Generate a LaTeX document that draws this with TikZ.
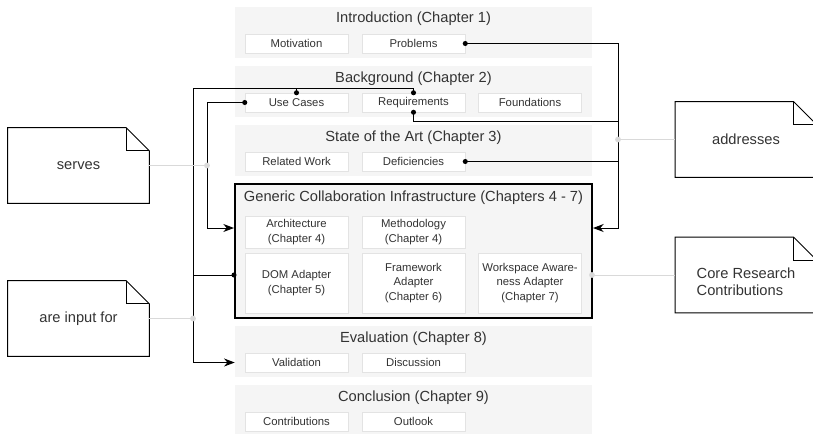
\documentclass[tikz,border=0pt]{standalone}
\usepackage{fontspec}
\setmainfont{Liberation Sans}
\usetikzlibrary{arrows.meta}

\definecolor{secfill}{HTML}{F5F5F5}
\definecolor{subline}{HTML}{E3E3E3}
\definecolor{txt}{HTML}{333333}
\definecolor{hint}{HTML}{D9D9D9}

\tikzset{
  section/.style={fill=secfill, minimum width=267.75pt, minimum height=38.25pt, inner sep=0pt},
  core/.style={section, draw=black, line width=1.5pt, minimum height=100.5pt},
  title/.style={text=txt, font=\fontsize{11}{13}\selectfont, inner sep=0pt},
  sub/.style={fill=white, draw=subline, minimum width=77.25pt, minimum height=14.25pt, inner sep=0pt,
    text=txt, font=\fontsize{8.5}{11}\selectfont, align=center},
  notebox/.style={minimum width=105.75pt, minimum height=56.25pt, inner sep=0pt,
    text=txt, font=\fontsize{11}{13}\selectfont},
  flow/.style={line width=0.75pt},
  into/.style={flow, -{Stealth[length=8pt, width=6pt, inset=2.5pt]}},
  hintline/.style={draw=hint, line width=0.75pt},
}

\begin{document}
\begin{tikzpicture}[x=0.75pt, y=-0.75pt]
  \useasboundingbox (0,0) rectangle (813,433);

  % chapters
  \node[section] (intro) at (413.5,32.5) {};
  \node[title] (introT) at (413.5,19) {Introduction (Chapter 1)};
  \node[sub] (motiv) at (296.5,43.5) {Motivation};
  \node[sub] (probl) at (413.5,43.5) {Problems};

  \node[section] (backg) at (413.5,91.5) {};
  \node[title] (backgT) at (413.5,79) {Background (Chapter 2)};
  \node[sub] (usec) at (296.5,102.5) {Use Cases};
  \node[sub] (req) at (413.5,102.5) {Requirements};
  \node[sub] (found) at (530,102.5) {Foundations};

  \node[section] (sota) at (413.5,150.5) {};
  \node[title] (sotaT) at (413.5,138) {State of the Art (Chapter 3)};
  \node[sub] (relw) at (296.5,161.5) {Related Work};
  \node[sub] (defic) at (413.5,161.5) {Deficiencies};

  \node[core] (gci) at (413.5,251) {};
  \node[title] (gciT) at (413.5,198) {Generic Collaboration Infrastructure (Chapters 4 - 7)};
  \node[sub, minimum height=24pt] (arch) at (296.5,232) {Architecture\\(Chapter 4)};
  \node[sub, minimum height=24pt] (meth) at (413.5,232) {Methodology\\(Chapter 4)};
  \node[sub, minimum height=45pt] (dom) at (296.5,283) {DOM Adapter\\(Chapter 5)};
  \node[sub, minimum height=45pt] (fwk) at (413.5,283) {Framework\\Adapter\\(Chapter 6)};
  \node[sub, minimum height=45pt] (wsa) at (530,283) {Workspace Aware-\\ness Adapter\\(Chapter 7)};

  \node[section] (eval) at (413.5,351.5) {};
  \node[title] (evalT) at (413.5,339) {Evaluation (Chapter 8)};
  \node[sub] (valid) at (296.5,362.5) {Validation};
  \node[sub] (disc) at (413.5,362.5) {Discussion};

  \node[section] (concl) at (413.5,410.5) {};
  \node[title] (conclT) at (413.5,398) {Conclusion (Chapter 9)};
  \node[sub] (contr) at (296.5,421.5) {Contributions};
  \node[sub] (outl) at (413.5,421.5) {Outlook};

  % notes
  \node[notebox] (serves) at (78.5,165.5) {serves};
  \node[notebox] (input) at (78.5,318.5) {are input for};
  \node[notebox] (addr) at (746,139.5) {addresses};
  \node[notebox] (crc) at (746,275) {};
  \node[title, align=left, font=\fontsize{11}{13}\selectfont] (crcT) at (746,282) {Core Research\\Contributions};
  \foreach \n in {serves,input,addr,crc} {
    \draw[flow] (\n.north west) -- ([xshift=-17.25pt]\n.north east)
      -- ([yshift=-17.25pt]\n.north east) -- (\n.south east) -- (\n.south west) -- cycle;
    \draw[flow] ([xshift=-17.25pt]\n.north east) |- ([yshift=-17.25pt]\n.north east);
  }

  % right bus
  \draw[into] (probl.east) -- (618,43.5) -- (618,228) -- ([yshift=17.25pt]gci.east);
  \draw[flow] (req.south) -- (413.5,121) -- (618,121);
  \draw[flow] (defic.east) -- (618,161.5);

  % left buses
  \coordinate (topL) at (193,88);
  \draw[into] (req.north) |- (topL) -- (193,362.5) -- (eval.west |- valid);
  \draw[flow] (usec.north) -- (usec.north |- topL);
  \draw[flow] ([yshift=-18pt]gci.west) -- (193,275);
  \draw[into] (usec.west) -- (207,102.5) -- (207,228) -- ([yshift=17.25pt]gci.west);

  % hints
  \draw[hintline] (serves.east) -- (207,165.5);
  \draw[hintline] (input.east) -- (193,318.5);
  \draw[hintline] (618,139.5) -- (addr.west);
  \draw[hintline] (gci.east |- crc.west) -- (crc.west);
  \foreach \p in {(207,165.5),(193,318.5),(618,139.5),(592,275)}
    \fill[hint] \p circle[radius=2.2pt];

  % dots
  \foreach \p in {(probl.east),(req.south),(defic.east),(usec.north),(req.north),(usec.west)}
    \fill \p circle[radius=1.9pt];
  \fill ([yshift=-18pt]gci.west) circle[radius=1.9pt];
\end{tikzpicture}
\end{document}
